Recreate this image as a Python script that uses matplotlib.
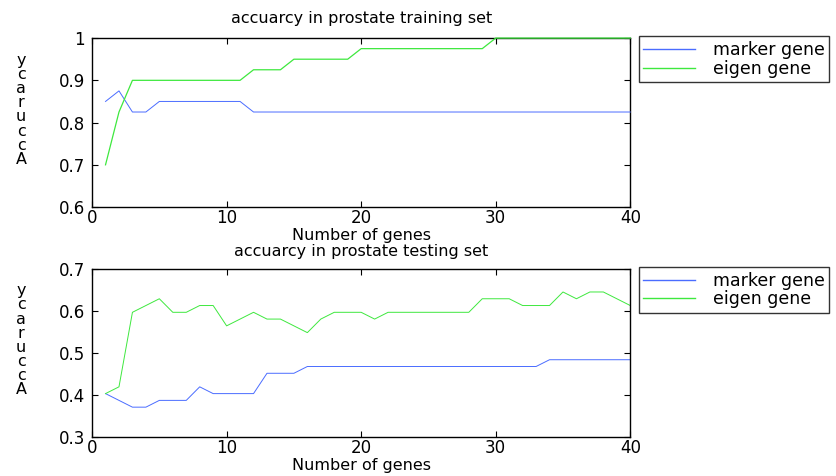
import numpy as np
import matplotlib.pyplot as plt

plt.rcParams['font.family'] = ['DejaVu Sans']

#data
genes = np.arange(1, 41)
##training set (accuracy values)
train_marker = [0.85, 0.875, 0.825, 0.825] + [0.85]*7 + [0.825]*29
train_eigen = [0.7, 0.825] + [0.9]*9 + [0.925]*3 + [0.95]*5 + [0.975]*10 + [1.0]*11
##testing set (counts out of 62)
test_marker_k = [25, 24, 23, 23, 24, 24, 24, 26, 25, 25, 25, 25, 28, 28, 28] + [29]*18 + [30]*7
test_eigen_k = [25, 26, 37, 38, 39, 37, 37, 38, 38, 35, 36, 37, 36, 36, 35, 34, 36, 37, 37, 37,
                36, 37, 37, 37, 37, 37, 37, 37, 39, 39, 39, 38, 38, 38, 40, 39, 40, 40, 39, 38]
test_marker = np.array(test_marker_k)/62
test_eigen = np.array(test_eigen_k)/62

labels = ["marker gene", "eigen gene"]
blue = "#4a6cff"
green = "#3ee83e"

fig = plt.figure(figsize=(8.37, 4.76), dpi=100)

def setup(ax, ylim, yticks, yticklabels, title, tpad, xpad):
    ax.set_xlim(0, 40)
    ax.set_ylim(*ylim)
    ax.set_xticks([0, 10, 20, 30, 40])
    ax.set_yticks(yticks)
    ax.set_yticklabels(yticklabels)
    ax.tick_params(direction='in', top=True, right=True, length=4, width=0.8, labelsize=12)
    ax.tick_params(axis='x', pad=1.5)
    ax.tick_params(axis='y', pad=5)
    for s in ax.spines.values():
        s.set_linewidth(1.0)
    ax.set_title(title, fontsize=11.5, pad=tpad)
    ax.set_xlabel("Number of genes", fontsize=11.5, labelpad=xpad)
    ax.set_ylabel("y\nc\na\nr\nu\nc\nc\nA", rotation=0, fontsize=11.5, linespacing=0.93, va='center', ha='center')
    ax.yaxis.set_label_coords(-0.132, 0.575)

def add_legend(ax):
    lg = ax.legend(loc='upper left', bbox_to_anchor=(1.016, 1.01), frameon=True, fancybox=False,
                   edgecolor='black', fontsize=12.5, handlelength=3.0, borderpad=0.25, labelspacing=0.05,
                   handletextpad=1.0, borderaxespad=0.0)
    lg.get_frame().set_linewidth(1.0)
    for h in lg.get_lines():
        h.set_linewidth(1.0)

##training plot
ax1 = fig.add_axes([0.110, 0.565, 0.643, 0.355])
ax1.plot(genes, train_marker, color=blue, linewidth=0.7, label=labels[0], clip_on=False, zorder=3)
ax1.plot(genes, train_eigen, color=green, linewidth=0.9, label=labels[1], clip_on=False, zorder=3)
setup(ax1, (0.6, 1.0), [0.6, 0.7, 0.8, 0.9, 1.0], ["0.6", "0.7", "0.8", "0.9", "1"],
      "accuarcy in prostate training set", 11, 0.5)
add_legend(ax1)

##testing plot
ax2 = fig.add_axes([0.110, 0.082, 0.643, 0.353])
ax2.plot(genes, test_marker, color=blue, linewidth=0.7, label=labels[0])
ax2.plot(genes, test_eigen, color=green, linewidth=0.7, label=labels[1])
setup(ax2, (0.3, 0.7), [0.3, 0.4, 0.5, 0.6, 0.7], ["0.3", "0.4", "0.5", "0.6", "0.7"],
      "accuarcy in prostate testing set", 9, 1)
add_legend(ax2)

plt.savefig("out.png", dpi=100)
